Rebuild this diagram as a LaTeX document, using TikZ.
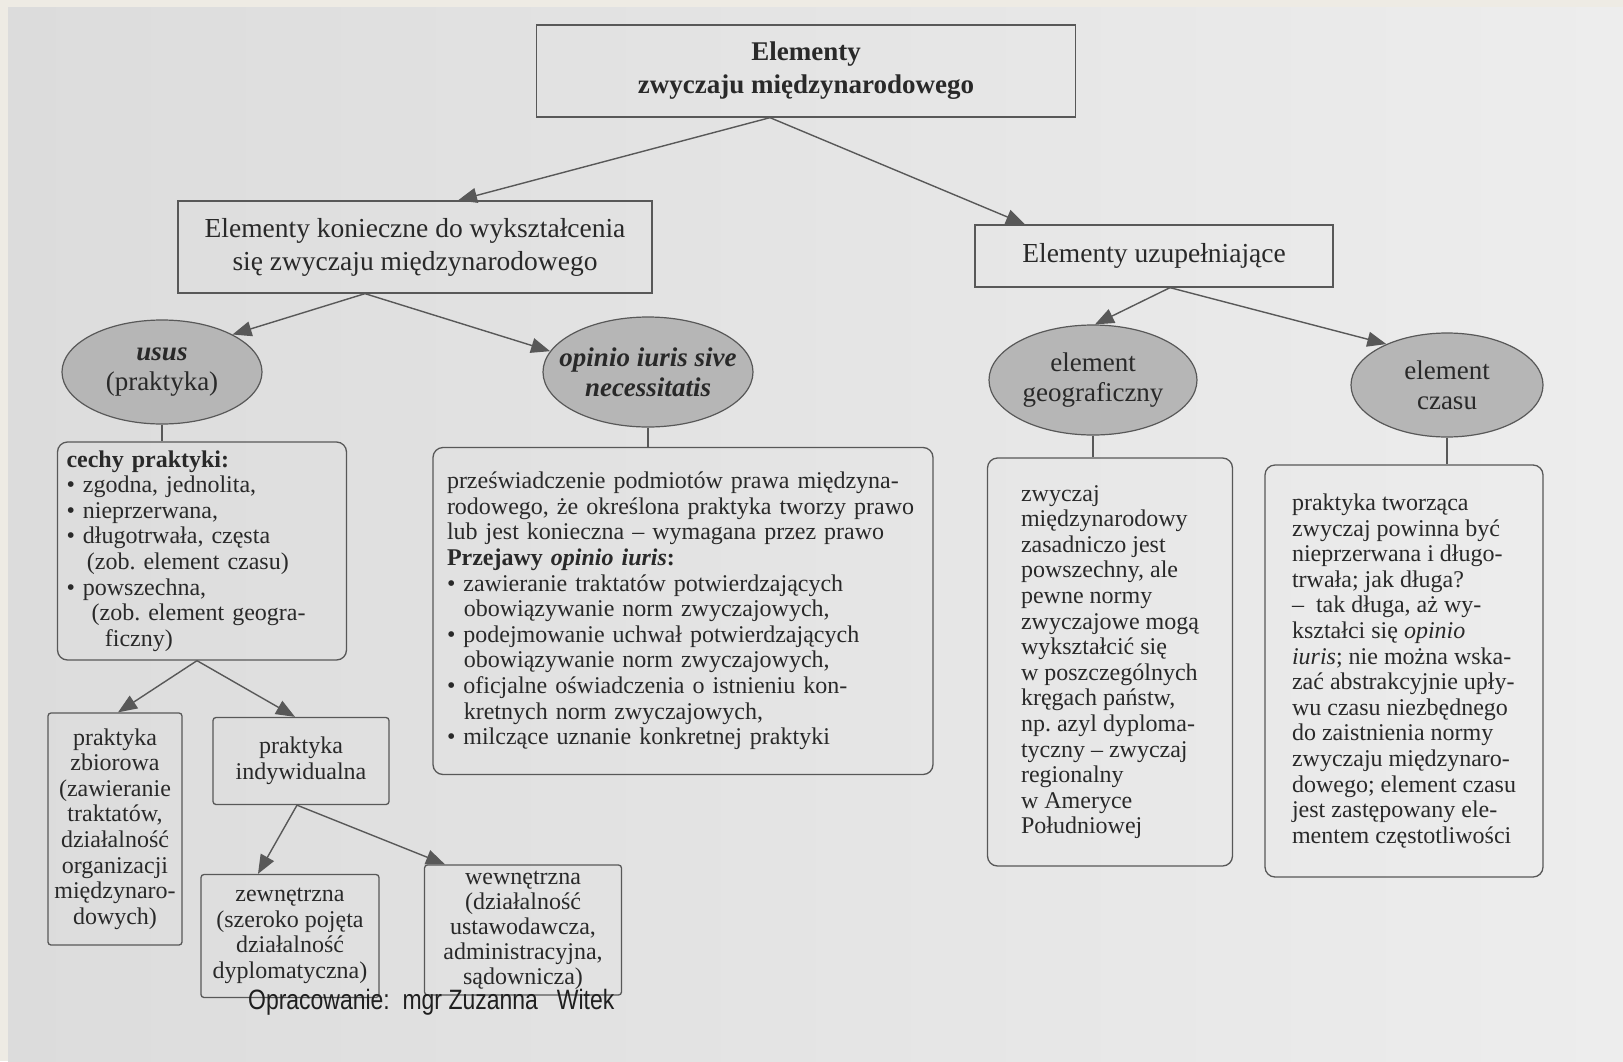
\documentclass[tikz,border=0pt]{standalone}
\usepackage{fontspec}
\setmainfont{Liberation Serif}
\newfontfamily\footfont{Liberation Sans}
\usetikzlibrary{arrows.meta,shapes.geometric,calc}
\definecolor{bgcream}{HTML}{EEEBE4}
\definecolor{photoA}{HTML}{DCDCDC}
\definecolor{photoB}{HTML}{EDEDED}
\definecolor{linec}{HTML}{585858}
\definecolor{txtc}{HTML}{292929}
\definecolor{ellfill}{HTML}{B6B6B6}
\frenchspacing
\begin{document}
\begin{tikzpicture}[x=1pt,y=-1pt,
  every node/.style={text=txtc, inner sep=0pt},
  plainbox/.style={draw=linec, line width=1.3pt, rectangle},
  roundbox/.style={plainbox, rounded corners=10pt},
  smallbox/.style={plainbox, rounded corners=3pt},
  ell/.style={ellipse, draw=linec, line width=1.2pt, fill=ellfill},
  conn/.style={draw=linec, line width=1.4pt},
  arr/.style={conn, -{Triangle[length=19pt,width=15pt]}},
  bodyf/.style={font=\fontsize{24}{25.6}\selectfont},
  headf/.style={font=\fontsize{27.5}{33}\selectfont},
  ellf/.style={font=\fontsize{27}{30}\selectfont},
]
\useasboundingbox (0,0) rectangle (1623,1061);
\fill[bgcream] (0,0) rectangle (1623,1061);
\shade[left color=photoA, right color=photoB] (8,7) rectangle (1623,1061);

% top level
\node[plainbox, minimum width=539pt, minimum height=92pt, align=center,
      font=\fontsize{27}{33}\selectfont\bfseries] (top) at (806,71)
      {Elementy\\zwyczaju międzynarodowego};
\node[plainbox, minimum width=474pt, minimum height=92pt, align=center, headf] (nec) at (415,247)
      {Elementy konieczne do wykształcenia\\się zwyczaju międzynarodowego};
\node[plainbox, minimum width=358pt, minimum height=62pt, headf] (sup) at (1154,256)
      {Elementy uzupełniające};

% ellipses
\node[ell, minimum width=200pt, minimum height=104pt,
      label={[align=center, ellf]center:{\textbf{\textit{usus}}\\(praktyka)}}] (usus) at (162,372) {};
\node[ell, minimum width=210pt, minimum height=110pt,
      label={[align=center, ellf]center:{\textbf{\textit{opinio iuris sive}}\\\textbf{\textit{necessitatis}}}}] (opinio) at (648,372) {};
\node[ell, minimum width=208pt, minimum height=110pt,
      label={[align=center, ellf]center:{element\\geograficzny}}] (geo) at (1093,380) {};
\node[ell, minimum width=192pt, minimum height=104pt,
      label={[align=center, ellf]center:{element\\czasu}}] (czasu) at (1447,385) {};

% text boxes
\node[roundbox, minimum width=289pt, minimum height=218pt, text width=271pt, align=left, bodyf] (cechy) at (202,551)
{\textbf{cechy praktyki:}\\
• zgodna, jednolita,\\
• nieprzerwana,\\
• długotrwała, częsta\\
\hspace*{0.85em}(zob. element czasu)\\
• powszechna,\\
\hspace*{1.05em}(zob. element geogra-\\
\hspace*{1.6em}ficzny)};

\node[roundbox, minimum width=500pt, minimum height=327pt, text width=472pt, align=left, bodyf] (opTxt) at (683,611)
{przeświadczenie podmiotów prawa międzyna-\\
rodowego, że określona praktyka tworzy prawo\\
lub jest konieczna – wymagana przez prawo\\
\textbf{Przejawy \textit{opinio iuris}:}\\
• zawieranie traktatów potwierdzających\\
\hspace*{0.7em}obowiązywanie norm zwyczajowych,\\
• podejmowanie uchwał potwierdzających\\
\hspace*{0.7em}obowiązywanie norm zwyczajowych,\\
• oficjalne oświadczenia o istnieniu kon-\\
\hspace*{0.7em}kretnych norm zwyczajowych,\\
• milczące uznanie konkretnej praktyki};

\node[roundbox, minimum width=245pt, minimum height=408pt, align=left, bodyf] (geoTxt) at (1110,662)
{zwyczaj\\
międzynarodowy\\
zasadniczo jest\\
powszechny, ale\\
pewne normy\\
zwyczajowe mogą\\
wykształcić się\\
w poszczególnych\\
kręgach państw,\\
np. azyl dyploma-\\
tyczny – zwyczaj\\
regionalny\\
w Ameryce\\
Południowej};

\node[roundbox, minimum width=278pt, minimum height=412pt, align=left, bodyf] (czTxt) at (1404,671)
{praktyka tworząca\\
zwyczaj powinna być\\
nieprzerwana i długo-\\
trwała; jak długa?\\
– \ tak długa, aż wy-\\
kształci się \textit{opinio}\\
\textit{iuris}; nie można wska-\\
zać abstrakcyjnie upły-\\
wu czasu niezbędnego\\
do zaistnienia normy\\
zwyczaju międzynaro-\\
dowego; element czasu\\
jest zastępowany ele-\\
mentem częstotliwości};

% bottom boxes
\node[smallbox, minimum width=134pt, minimum height=232pt, align=center, bodyf] (zbior) at (115,829)
{praktyka\\zbiorowa\\(zawieranie\\traktatów,\\działalność\\organizacji\\międzynaro-\\dowych)};
\node[smallbox, minimum width=176pt, minimum height=87pt, align=center, bodyf] (indyw) at (301,761)
{praktyka\\indywidualna};
\node[smallbox, minimum width=178pt, minimum height=123pt, align=center, bodyf] (zewn) at (290,936)
{zewnętrzna\\(szeroko pojęta\\działalność\\dyplomatyczna)};
\node[smallbox, minimum width=197pt, minimum height=130pt, align=center,
      font=\fontsize{24}{25}\selectfont] (wewn) at (523,930)
{wewnętrzna\\(działalność\\ustawodawcza,\\administracyjna,\\sądownicza)};

% connectors
\draw[arr] ([xshift=-36pt]top.south) -- ([xshift=43pt]nec.north);
\draw[arr] ([xshift=-36pt]top.south) -- ([xshift=-129pt]sup.north);
\draw[arr] ([xshift=-50pt]nec.south) -- (usus.28);
\draw[arr] ([xshift=-50pt]nec.south) -- (opinio.168);
\draw[arr] ([xshift=16pt]sup.south) -- (geo.88);
\draw[arr] ([xshift=16pt]sup.south) -- (czasu.146);
\draw[arr] ([xshift=-5pt]cechy.south) -- ([xshift=3pt]zbior.north);
\draw[arr] ([xshift=-5pt]cechy.south) -- ([xshift=-6pt]indyw.north);
\draw[arr] ([xshift=-4pt]indyw.south) -- ([xshift=-32pt]zewn.north);
\draw[arr] ([xshift=-4pt]indyw.south) -- ([xshift=-78pt]wewn.north);

\draw[conn] (usus.south) -- (usus.south |- cechy.north);
\draw[conn] (opinio.south) -- (opinio.south |- opTxt.north);
\draw[conn] (geo.south) -- (geo.south |- geoTxt.north);
\draw[conn] (czasu.south) -- (czasu.south |- czTxt.north);

% footer
\node[anchor=base west, font=\footfont\fontsize{28}{30}\selectfont, text=black!88] (foot) at (248,1009)
  {\scalebox{0.82}[1]{Opracowanie:\ \ mgr Zuzanna\ \ \ Witek}};
\end{tikzpicture}
\end{document}
